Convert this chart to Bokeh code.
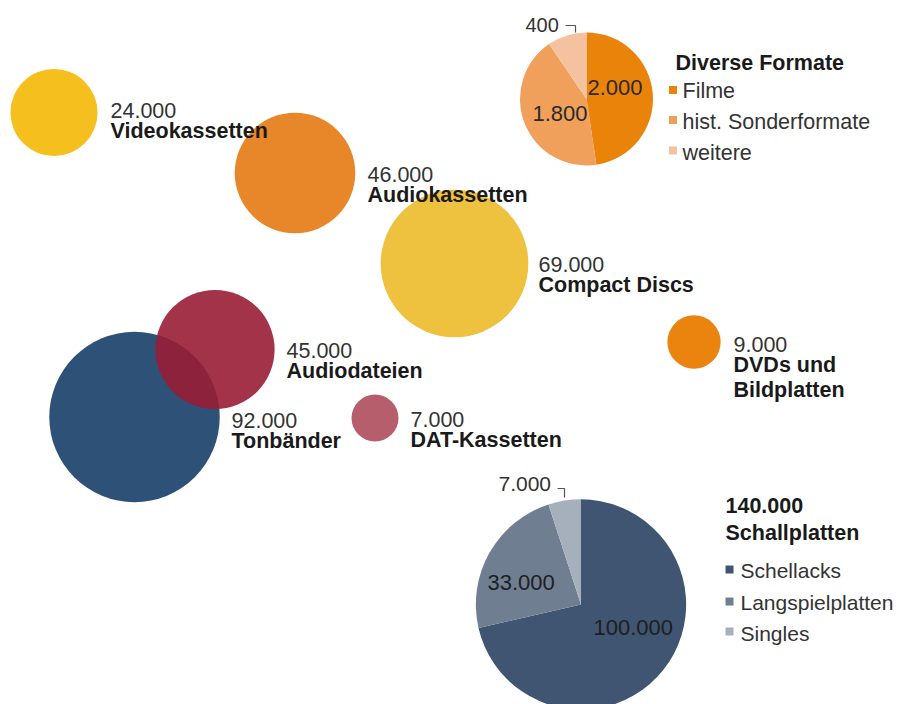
import numpy as np
from bokeh.plotting import figure
from bokeh.models import Range1d, ColumnDataSource
from bokeh.core.properties import value
from bokeh.embed import file_html
from bokeh.resources import INLINE

# ---------------- data ----------------
formats = ["Videokassetten", "Audiokassetten", "Compact Discs", "Tonbänder",
           "Audiodateien", "DAT-Kassetten", "DVDs und\nBildplatten"]
counts = [24000, 46000, 69000, 92000, 45000, 7000, 9000]
colors = ["#F5BF1E", "#E8872A", "#EEC13F", "#2E5178", "#981D35", "#B75E6C", "#EA840E"]

div_title = "Diverse Formate"
div_cats = ["Filme", "hist. Sonderformate", "weitere"]
div_vals = [2000, 1800, 400]
div_colors = ["#EA830A", "#F0A05B", "#F4C29E"]

sch_title = "Schallplatten"
sch_cats = ["Schellacks", "Langspielplatten", "Singles"]
sch_vals = [100000, 33000, 7000]
sch_colors = ["#3F5572", "#6F7E90", "#A6B0BC"]


def de(n):
    return f"{n:,}".replace(",", ".")


# ---------------- layout (pixels from the picture's top-left) ----------------
K = 0.281                       # radius per sqrt(count)
bx = [53.5, 294.5, 454, 134, 214.5, 374.5, 693.5]
by = [112, 172.5, 263, 416.5, 349, 417.5, 341.5]
alphas = [1, 1, 1, 1, 0.9, 1, 1]
lab_x = [110, 367, 538, 231, 286, 410, 733]
lab_base = [130, 194, 284, 440, 370, 439, 364]

FONT = "Liberation Sans"
W, H = 900, 704
p = figure(width=W, height=H, output_backend="svg", toolbar_location=None,
           x_range=Range1d(0, W), y_range=Range1d(-H, 0),
           x_axis_type=None, y_axis_type=None, min_border=0)
p.outline_line_color = None
p.grid.visible = False
p.background_fill_color = "white"
p.border_fill_color = "white"

Y = lambda v: -np.asarray(v, dtype=float)

# bubbles
src = ColumnDataSource(dict(x=bx, y=Y(by), r=K * np.sqrt(counts), c=colors, a=alphas))
p.circle(x="x", y="y", radius="r", fill_color="c", fill_alpha="a", line_color=None, source=src)


def pie(cx, cy, r, vals, cols):
    frac = np.asarray(vals, dtype=float) / sum(vals)
    cum = np.concatenate([[0], np.cumsum(frac)])
    start = np.pi / 2 - 2 * np.pi * cum[:-1]
    end = np.pi / 2 - 2 * np.pi * cum[1:]
    s = ColumnDataSource(dict(x=[cx] * len(vals), y=list(Y([cy] * len(vals))), s=start, e=end, c=cols))
    p.wedge(x="x", y="y", radius=r, start_angle="s", end_angle="e", direction="clock",
            fill_color="c", line_color=None, source=s)


pie(586, 98.5, 66.5, div_vals, div_colors)
pie(580.5, 604, K * np.sqrt(sum(sch_vals)), sch_vals, sch_colors)


def txt(xs, ys, texts, size="21.5px", bold=False, color="#333333"):
    p.text(x=xs, y=list(Y(ys)), text=texts, text_font=value(FONT),
           text_font_size=size, text_font_style="bold" if bold else "normal",
           text_color=color, text_align="left", text_baseline="alphabetic")


# bubble labels
nx, ny, nt = [], [], []
mx, my, mt = [], [], []
for i, name in enumerate(formats):
    nx.append(lab_x[i]); ny.append(lab_base[i] - 20); nt.append(de(counts[i]))
    for j, line in enumerate(name.split("\n")):
        mx.append(lab_x[i]); my.append(lab_base[i] + 25 * j); mt.append(line)
txt(nx, ny, nt, color="#333333")
txt(mx, my, mt, bold=True, color="#1a1a1a")

# pie value labels
txt([587, 532], [87, 113], [de(div_vals[0]), de(div_vals[1])], size="22px", color="#2a2a2a")
txt([525], [24], [de(div_vals[2])], size="20px", color="#333333")
txt([593, 487], [627, 582], [de(sch_vals[0]), de(sch_vals[1])], size="22px", color="#1e1e1e")
txt([498], [483], [de(sch_vals[2])], size="21px", color="#333333")

# connectors
p.multi_line(xs=[[565, 575, 575], [557, 564, 564]],
             ys=[list(Y([25, 25, 32])), list(Y([488, 488, 497]))],
             line_color="#555555", line_width=1.2)

# legends
txt([675], [62], [div_title], bold=True, color="#1a1a1a")
div_sq = [89.5, 119.5, 150]
div_base = [90, 121, 152]
p.rect(x=[672.5] * 3, y=list(Y(div_sq)), width=8, height=8,
       width_units="screen", height_units="screen", fill_color=div_colors, line_color=None)
txt([682] * 3, div_base, div_cats, size="21.5px", color="#333333")

txt([725, 725], [505, 532], [de(sum(sch_vals)), sch_title], bold=True, color="#1a1a1a")
sch_sq = [569, 601, 631]
sch_base = [570, 602, 633]
p.rect(x=[729] * 3, y=list(Y(sch_sq)), width=8, height=8,
       width_units="screen", height_units="screen", fill_color=sch_colors, line_color=None)
txt([740] * 3, sch_base, sch_cats, size="21px", color="#333333")

open("out.html", "w").write(file_html(p, INLINE))
